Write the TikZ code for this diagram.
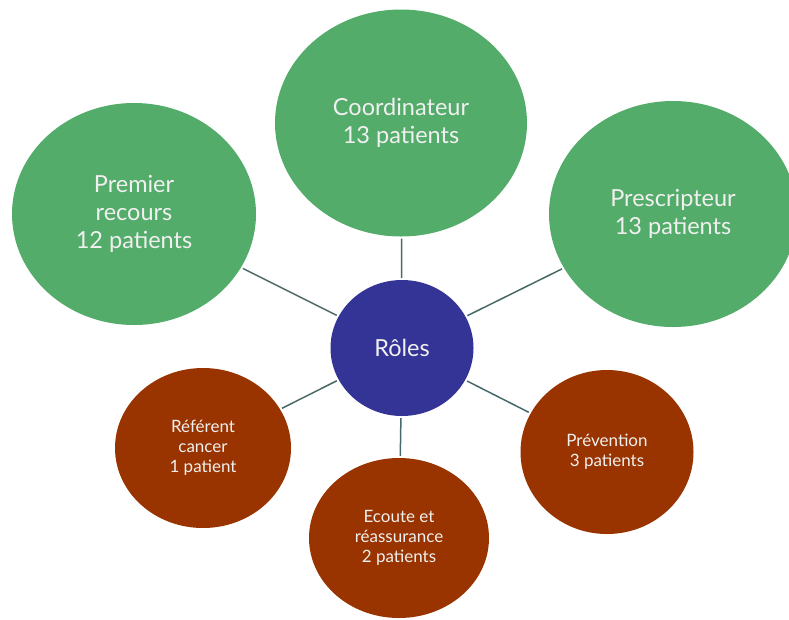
\documentclass[tikz,border=0pt]{standalone}
\usepackage{fontspec}
\setmainfont{Lato}
\usetikzlibrary{shapes.geometric}
\definecolor{vert}{RGB}{84,172,106}
\definecolor{bleu}{RGB}{52,52,150}
\definecolor{brun}{RGB}{153,51,0}
\definecolor{lien}{RGB}{72,105,105}
\definecolor{txt}{RGB}{240,240,240}
\begin{document}
\begin{tikzpicture}[x=1pt,y=-1pt,
  bigc/.style={ellipse,fill=vert,text=txt,inner sep=0pt,align=center,font=\fontsize{23.5}{28}\selectfont},
  smallc/.style={ellipse,fill=brun,text=txt,inner sep=0pt,align=center,font=\fontsize{17}{20}\selectfont},
  centrec/.style={ellipse,fill=bleu,text=txt,inner sep=0pt,align=center,font=\fontsize{23.5}{28}\selectfont},
  link/.style={draw=lien,line width=1.5pt,shorten >=2pt,shorten <=2pt}]
\useasboundingbox (0,0) rectangle (789,619);
\node[centrec,minimum width=143pt,minimum height=136pt] (roles) at (402,348) {Rôles};
\node[bigc,minimum width=252pt,minimum height=227pt] (coord) at (401,123) {Coordinateur\\13 patients};
\node[bigc,minimum width=244pt,minimum height=222pt] (prem) at (134,214) {Premier\\recours\\12 patients};
\node[bigc,minimum width=248pt,minimum height=226pt] (presc) at (673,214) {Prescripteur\\13 patients};
\node[smallc,minimum width=176pt,minimum height=160pt] (ref) at (203,448) {Référent\\cancer\\1 patient};
\node[smallc,minimum width=180pt,minimum height=160pt] (ecoute) at (399,538) {Ecoute et\\réassurance\\2 patients};
\node[smallc,minimum width=173pt,minimum height=164pt] (prev) at (607,452) {Prévention\\3 patients};
\draw[link] (roles) -- (coord);
\draw[link] (roles) -- (prem);
\draw[link] (roles) -- (presc);
\draw[link] (roles) -- (ref);
\draw[link] (roles) -- (ecoute);
\draw[link] (roles) -- (prev);
\end{tikzpicture}
\end{document}
